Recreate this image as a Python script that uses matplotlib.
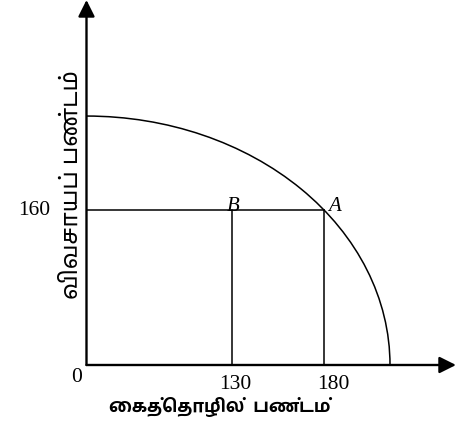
import unicodedata
import matplotlib
matplotlib.use('Agg')
import matplotlib.pyplot as plt
from matplotlib.patches import Arc

# chart text (Tamil) and values
y_label = 'விவசாயப் பண்டம்'
x_label = 'கைத்தொழில்  பண்டம்'
point_names = ['B', 'A']
x_values = ['130', '180']      # tick labels under B and A
x_marks = [110, 180]           # where B and A sit on the (schematic) x scale
y_value = 160                  # level of B and A
x_max, y_max = 230, 257        # intercepts of the curve


def visual(s):
    # matplotlib has no text shaping: put Tamil pre-base vowel signs in front
    s = unicodedata.normalize('NFD', s)
    out = []
    for ch in s:
        if ch in '\u0bc6\u0bc7\u0bc8' and out:
            prev = out.pop()
            out += [ch, prev]
        else:
            out.append(ch)
    return ''.join(out)


fig = plt.figure(figsize=(4.65, 4.26), dpi=100)
ax = fig.add_axes([0.186, 0.1432, 0.7946, 0.8568])
ax.set_xlim(0, 280)
ax.set_ylim(0, 376.8)
ax.axis('off')

# axes with arrow heads
for tip in [(280, 0), (0, 376.8)]:
    ax.annotate('', xy=tip, xytext=(0, 0), annotation_clip=False,
                arrowprops=dict(arrowstyle='-|>,head_length=1.0,head_width=0.5',
                                mutation_scale=10, lw=1.7, color='black',
                                shrinkA=0, shrinkB=0))

# production possibility curve
ax.add_patch(Arc((0, 0), 2 * x_max, 2 * y_max, theta1=0, theta2=90,
                 lw=1.1, color='black'))

# guide lines
ax.plot([0, x_marks[1]], [y_value, y_value], color='black', lw=1.1)
for xm in x_marks:
    ax.plot([xm, xm], [0, y_value], color='black', lw=1.1)

serif = 'Liberation Serif'
ax.text(-27.7, y_value, str(y_value), family=serif, fontsize=15.5,
        ha='right', va='center')
ax.text(-7.4, -12.9, '0', family=serif, fontsize=15.5, ha='center', va='center')
for xm, lab, dx in zip(x_marks, x_values, [2.5, 6.8]):
    ax.text(xm + dx, -10.3, lab, family=serif, fontsize=15.5, ha='center', va='top')

ax.text(x_marks[0] + 1.5, y_value - 1, point_names[0], family=serif,
        style='italic', fontsize=15, ha='center', va='baseline')
ax.text(x_marks[1] + 3, y_value - 1, point_names[1], family=serif,
        style='italic', fontsize=15, ha='left', va='baseline')

ax.text(-11, 185.8, visual(y_label), family=['Noto Sans Tamil', 'DejaVu Sans'],
        fontsize=17, rotation=90, ha='center', va='center')
ax.text(101.2, -43.4, visual(x_label), family=['Hind Madurai', 'DejaVu Sans'],
        weight='bold', fontsize=13, ha='center', va='center')

fig.savefig('out.png')
